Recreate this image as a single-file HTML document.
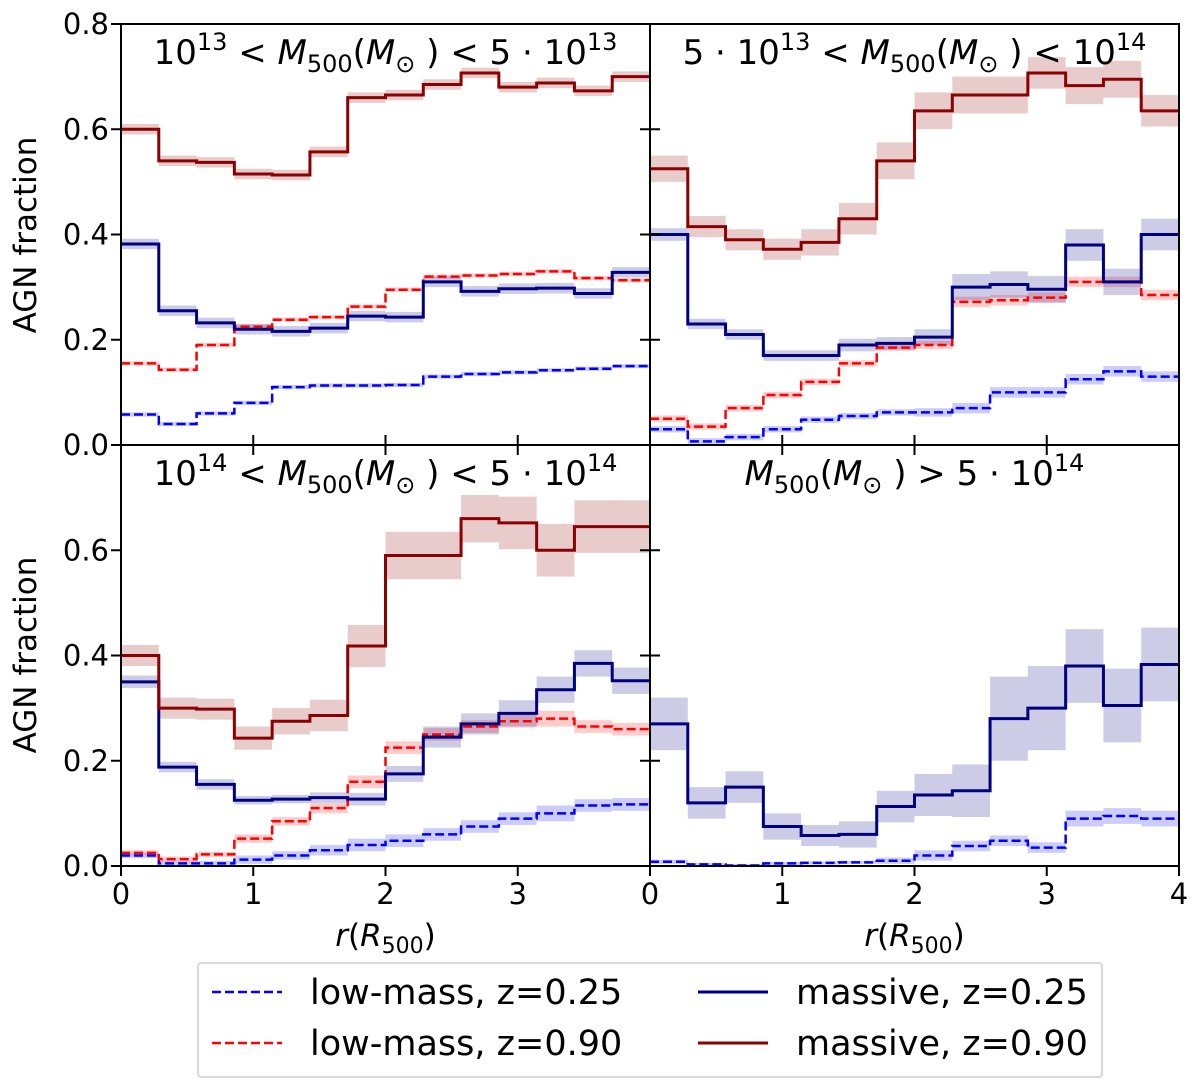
<!DOCTYPE html>
<html><head><meta charset="utf-8"><style>
body{margin:0;background:#fff;}
svg text{font-family:"DejaVu Sans","Liberation Sans",sans-serif;fill:#000;}
</style></head><body>
<svg id="c" width="1200" height="1087" xmlns="http://www.w3.org/2000/svg"></svg>
<script>
const edges=[0,0.2857,0.5714,0.8571,1.1429,1.4286,1.7143,2,2.2857,2.5714,2.8571,3.1429,3.4286,3.7143,4];
const xTicks=[0,1,2,3];
const xTicksLast=[0,1,2,3,4];
const yTicks=[0,0.2,0.4,0.6,0.8];
const yTickLabels=["0.0","0.2","0.4","0.6","0.8"];
// panel 1
const p1_massive90=[0.60,0.54,0.537,0.515,0.513,0.557,0.66,0.665,0.685,0.707,0.68,0.688,0.673,0.70];
const p1_massive25=[0.382,0.255,0.232,0.22,0.216,0.222,0.245,0.243,0.31,0.292,0.297,0.298,0.288,0.328];
const p1_low90=[0.155,0.143,0.19,0.225,0.238,0.243,0.263,0.295,0.32,0.322,0.325,0.33,0.317,0.313];
const p1_low25=[0.058,0.04,0.06,0.08,0.11,0.113,0.113,0.114,0.13,0.135,0.138,0.142,0.145,0.15];
// panel 2
const p2_massive90=[0.525,0.415,0.39,0.372,0.385,0.43,0.54,0.635,0.665,0.665,0.707,0.683,0.695,0.635];
const p2_massive25=[0.40,0.23,0.21,0.17,0.17,0.19,0.193,0.205,0.30,0.305,0.296,0.38,0.31,0.40];
const p2_low90=[0.05,0.035,0.07,0.095,0.12,0.155,0.185,0.19,0.272,0.275,0.28,0.31,0.31,0.285];
const p2_low25=[0.03,0.007,0.015,0.03,0.048,0.055,0.062,0.062,0.07,0.1,0.1,0.125,0.14,0.13];
// panel 3
const p3_massive90=[0.40,0.30,0.298,0.243,0.275,0.286,0.418,0.59,0.59,0.66,0.652,0.60,0.645,0.645];
const p3_massive25=[0.35,0.188,0.155,0.125,0.127,0.13,0.127,0.175,0.245,0.27,0.29,0.335,0.385,0.352];
const p3_low90=[0.025,0.013,0.022,0.052,0.085,0.11,0.16,0.225,0.25,0.265,0.275,0.28,0.265,0.26];
const p3_low25=[0.02,0.005,0.005,0.012,0.02,0.03,0.04,0.048,0.06,0.075,0.09,0.1,0.115,0.117];
// panel 4
const p4_massive25=[0.27,0.12,0.15,0.075,0.058,0.06,0.113,0.135,0.143,0.28,0.30,0.38,0.305,0.383];
const p4_low25=[0.008,0.003,0.001,0.005,0.006,0.007,0.01,0.02,0.038,0.048,0.035,0.09,0.095,0.09];
// error half-widths
const p1_err=[0.01,0.01,0.01,0.01,0.01,0.01,0.01,0.01,0.01,0.01,0.01,0.01,0.01,0.01];
const p1_errlow=[0.004,0.004,0.004,0.004,0.004,0.004,0.004,0.004,0.004,0.004,0.004,0.004,0.004,0.004];
const p2_err90=[0.025,0.02,0.02,0.02,0.025,0.03,0.035,0.035,0.035,0.035,0.03,0.035,0.035,0.03];
const p2_err25=[0.012,0.01,0.01,0.01,0.01,0.012,0.012,0.015,0.025,0.025,0.025,0.03,0.025,0.03];
const p2_errlow=[0.006,0.006,0.006,0.006,0.006,0.006,0.006,0.008,0.01,0.01,0.01,0.01,0.01,0.01];
const p3_err90=[0.02,0.02,0.02,0.022,0.025,0.03,0.04,0.045,0.045,0.045,0.05,0.05,0.05,0.05];
const p3_err25=[0.012,0.01,0.01,0.008,0.008,0.01,0.012,0.015,0.02,0.02,0.025,0.025,0.025,0.025];
const p3_errlow=[0.005,0.005,0.005,0.008,0.008,0.01,0.012,0.012,0.012,0.012,0.012,0.015,0.012,0.012];
const p4_err25=[0.05,0.03,0.03,0.025,0.02,0.025,0.03,0.04,0.05,0.08,0.08,0.07,0.07,0.07];
const p4_errlow=[0.004,0.003,0.003,0.003,0.003,0.003,0.006,0.01,0.01,0.01,0.01,0.015,0.015,0.015];

const NS="http://www.w3.org/2000/svg";
const svg=document.getElementById('c');
function mk(tag,attrs,parent){const e=document.createElementNS(NS,tag);for(const k in attrs)e.setAttribute(k,attrs[k]);(parent||svg).appendChild(e);return e;}
const C={low25:'#0000ff',low90:'#ff0000',m25:'#000080',m90:'#8b0000'};
const F={low25:'rgba(0,0,255,0.2)',low90:'rgba(255,0,0,0.2)',m25:'rgba(0,0,128,0.2)',m90:'rgba(139,0,0,0.2)'};

function panel(px,py,title,series,idx){
  const W=529,H=421;
  const g=mk('g',{});
  
  
  const xs=v=>px+v/4*W, ys=v=>py+H-v/0.8*H;
  mk('rect',{x:px,y:py,width:W,height:H,fill:'#fff'},g);
  const clip=mk('clipPath',{id:'cl'+idx},g);
  mk('rect',{x:px,y:py,width:W,height:H},clip);
  const gc=mk('g',{'clip-path':'url(#cl'+idx+')'},g);
  series.forEach(s=>{
    if(s.err){
      for(let i=0;i<s.vals.length;i++){
        const r=mk('rect',{x:xs(edges[i]),y:ys(s.vals[i]+s.err[i]),width:xs(edges[i+1])-xs(edges[i]),height:ys(s.vals[i]-s.err[i])-ys(s.vals[i]+s.err[i]),fill:F[s.k]},gc);
        
        
      }
    }
  });
  series.forEach(s=>{
    let d='';
    for(let i=0;i<s.vals.length;i++){
      d+=(i==0?'M':'L')+xs(edges[i])+','+ys(s.vals[i])+'L'+xs(edges[i+1])+','+ys(s.vals[i]);
    }
    const p=mk('path',{d:d,fill:'none',stroke:C[s.k],'stroke-width':s.dash?2.5:3,'stroke-dasharray':s.dash?'9,4':'none'},gc);
    
    
  });
  mk('rect',{x:px,y:py,width:W,height:H,fill:'none',stroke:'#000','stroke-width':2},g);
  yTicks.forEach((t,i)=>{
    const y=ys(t);
    if(idx==1||idx==3){
      mk('line',{x1:px-10,x2:px,y1:y,y2:y,stroke:'#000','stroke-width':2},g);
      mk('line',{x1:px+W-10,x2:px+W,y1:y,y2:y,stroke:'#000','stroke-width':2},g);
      if(!(idx==3&&i==4)){
        const tx=mk('text',{x:px-12,y:y+10,'text-anchor':'end','font-size':29},g);
        tx.textContent=yTickLabels[i];
        
        
      }
    } else {
      mk('line',{x1:px,x2:px+10,y1:y,y2:y,stroke:'#000','stroke-width':2},g);
    }
  });
  xTicksLast.forEach(t=>{
    const x=xs(t);
    if(idx<=2){
      mk('line',{x1:x,x2:x,y1:py+H-10,y2:py+H,stroke:'#000','stroke-width':2},g);
    } else {
      mk('line',{x1:x,x2:x,y1:py+H,y2:py+H+10,stroke:'#000','stroke-width':2},g);
      mk('line',{x1:x,x2:x,y1:py,y2:py+10,stroke:'#000','stroke-width':2},g);
    }
  });
  if(idx>=3){
    const labs=idx==3?xTicks:xTicksLast;
    labs.forEach(t=>{
      const tx=mk('text',{x:xs(t),y:py+H+38,'text-anchor':'middle','font-size':29},g);
      tx.textContent=String(t);
      
      
    });
    const xl=mk('text',{x:px+W/2,y:py+H+80,'text-anchor':'middle','font-size':31},g);
    xl.innerHTML='<tspan font-style="italic">r</tspan>(<tspan font-style="italic">R</tspan><tspan font-size="22" dy="7">500</tspan><tspan dy="-7">)</tspan>';
    
    
  }
  const tt=mk('text',{x:px+W/2,y:py+40,'text-anchor':'middle','font-size':34},g);
  tt.innerHTML=title;
  
  
}
const M='<tspan font-style="italic">M</tspan><tspan font-size="24" dy="8">500</tspan><tspan dy="-8">(</tspan><tspan font-style="italic">M</tspan><tspan font-size="24" dy="8">⊙</tspan><tspan dy="-8"> )</tspan>';
const sup=s=>'<tspan font-size="24" dy="-14">'+s+'</tspan><tspan dy="14"> </tspan>';
panel(121,24,'10'+sup('13')+'&lt; '+M+' &lt; 5 · 10'+sup('13'),[
 {k:'low25',vals:p1_low25,err:p1_errlow,dash:1,name:'low-mass-z025'},
 {k:'low90',vals:p1_low90,err:p1_errlow,dash:1,name:'low-mass-z090'},
 {k:'m25',vals:p1_massive25,err:p1_err,name:'massive-z025'},
 {k:'m90',vals:p1_massive90,err:p1_err,name:'massive-z090'}],1);
panel(650,24,'5 · 10'+sup('13')+'&lt; '+M+' &lt; 10'+sup('14'),[
 {k:'low25',vals:p2_low25,err:p2_errlow,dash:1,name:'low-mass-z025'},
 {k:'low90',vals:p2_low90,err:p2_errlow,dash:1,name:'low-mass-z090'},
 {k:'m25',vals:p2_massive25,err:p2_err25,name:'massive-z025'},
 {k:'m90',vals:p2_massive90,err:p2_err90,name:'massive-z090'}],2);
panel(121,445,'10'+sup('14')+'&lt; '+M+' &lt; 5 · 10'+sup('14'),[
 {k:'low25',vals:p3_low25,err:p3_errlow,dash:1,name:'low-mass-z025'},
 {k:'low90',vals:p3_low90,err:p3_errlow,dash:1,name:'low-mass-z090'},
 {k:'m25',vals:p3_massive25,err:p3_err25,name:'massive-z025'},
 {k:'m90',vals:p3_massive90,err:p3_err90,name:'massive-z090'}],3);
panel(650,445,M+' &gt; 5 · 10'+sup('14'),[
 {k:'low25',vals:p4_low25,err:p4_errlow,dash:1,name:'low-mass-z025'},
 {k:'m25',vals:p4_massive25,err:p4_err25,name:'massive-z025'}],4);

[235,655].forEach(cy=>{
  const t=mk('text',{x:0,y:0,'text-anchor':'middle','font-size':31,transform:'translate(36,'+cy+') rotate(-90)'});
  t.textContent='AGN fraction';
  
  
});
const lg=mk('g',{});


mk('rect',{x:198,y:963,width:904,height:114,fill:'#fff',stroke:'#ccc','stroke-width':1.5,rx:3},lg);
const entries=[['low25','low-mass, z=0.25',212,992,1],['low90','low-mass, z=0.90',212,1043,1],['m25','massive, z=0.25',698,992,0],['m90','massive, z=0.90',698,1043,0]];
entries.forEach(e=>{
  const g=mk('g',{},lg);
  
  
  mk('line',{x1:e[2],x2:e[2]+70,y1:e[3],y2:e[3],stroke:C[e[0]],'stroke-width':e[4]?2.5:3,'stroke-dasharray':e[4]?'9,4':'none'},g);
  const t=mk('text',{x:e[2]+98,y:e[3]+12,'font-size':35},g);
  t.textContent=e[1];
});
</script>
</body></html>
